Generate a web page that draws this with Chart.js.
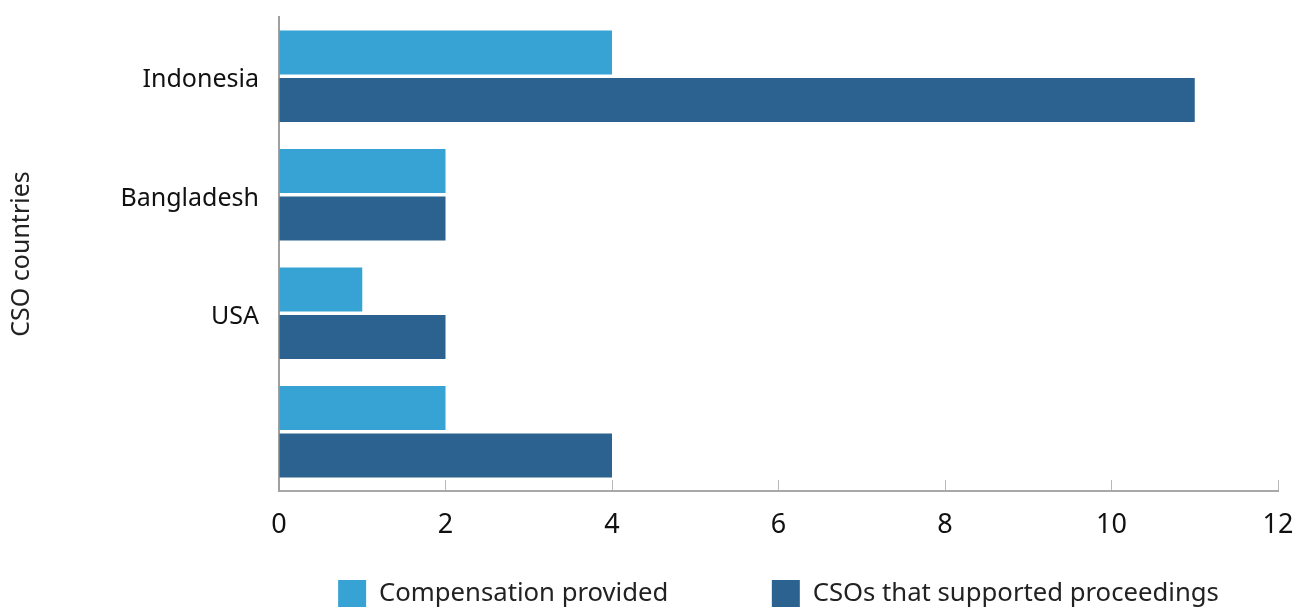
<!DOCTYPE html>
<html>
<head>
<meta charset="utf-8">
<script src="https://cdn.jsdelivr.net/npm/chart.js@4/dist/chart.umd.min.js"></script>
<style>
  html, body { margin: 0; padding: 0; background: #fff; overflow: hidden; }
  #wrap { width: 1300px; height: 618px; position: relative; }
</style>
</head>
<body>
<div id="wrap"><canvas id="chart"></canvas></div>
<script>
// countries (last category has no label in the source)
const countries = ["Indonesia", "Bangladesh", "USA", ""];
const compensation = [4, 2, 1, 2];
const supported = [11, 2, 2, 4];
const xTicks = [0, 2, 4, 6, 8, 10, 12];

const font = "'Noto Sans', sans-serif";
const legendSize = 25.7;

// widen the gap between the two legend entries with trailing spaces
function legendItems(chart) {
    const items = Chart.defaults.plugins.legend.labels.generateLabels(chart);
    const ctx = chart.ctx;
    ctx.save();
    ctx.font = legendSize + "px " + font;
    const sp = ctx.measureText(" ").width;
    ctx.restore();
    items[0].text += " ".repeat(Math.round(95 / sp));
    return items;
}

new Chart(document.getElementById("chart").getContext("2d"), {
    type: "bar",
    data: {
        labels: countries,
        datasets: [{
            label: "Compensation provided",
            data: compensation,
            backgroundColor: "#37a3d5",
            categoryPercentage: 0.8,
            barPercentage: 0.93
        }, {
            label: "CSOs that supported proceedings",
            data: supported,
            backgroundColor: "#2b628f",
            categoryPercentage: 0.8,
            barPercentage: 0.93
        }]
    },
    options: {
        indexAxis: "y",
        responsive: true,
        maintainAspectRatio: false,
        animation: false,
        layout: { padding: { top: 17, right: 22, left: 0, bottom: 0 } },
        scales: {
            x: {
                min: xTicks[0],
                max: xTicks[xTicks.length - 1],
                afterBuildTicks: s => { s.ticks = xTicks.map(v => ({ value: v })); },
                afterFit: s => { s.height = 79; s.paddingLeft = 0; s.paddingRight = 0; },
                grid: { drawOnChartArea: false, tickLength: -11, color: "#b8b8b8", lineWidth: 1 },
                border: { color: "#a8a8a8", width: 2 },
                ticks: { color: "#111", padding: 29, font: { family: font, size: 27 } }
            },
            y: {
                afterFit: s => { s.width = 279; s.paddingTop = 0; s.paddingBottom = 0; },
                grid: { drawOnChartArea: false, drawTicks: false },
                border: { color: "#a0a0a0", width: 2 },
                ticks: { color: "#111", padding: 20, labelOffset: 4, font: { family: font, size: 25 } },
                title: { display: true, text: "CSO countries", color: "#222", padding: { top: 7, bottom: 0 }, font: { family: font, size: 25 } }
            }
        },
        plugins: {
            legend: {
                position: "bottom",
                fullSize: false,
                labels: {
                    boxWidth: 28,
                    boxHeight: 28,
                    padding: 10,
                    color: "#222",
                    font: { family: font, size: legendSize },
                    generateLabels: legendItems
                }
            },
            tooltip: { enabled: false }
        }
    }
});
</script>
</body>
</html>
